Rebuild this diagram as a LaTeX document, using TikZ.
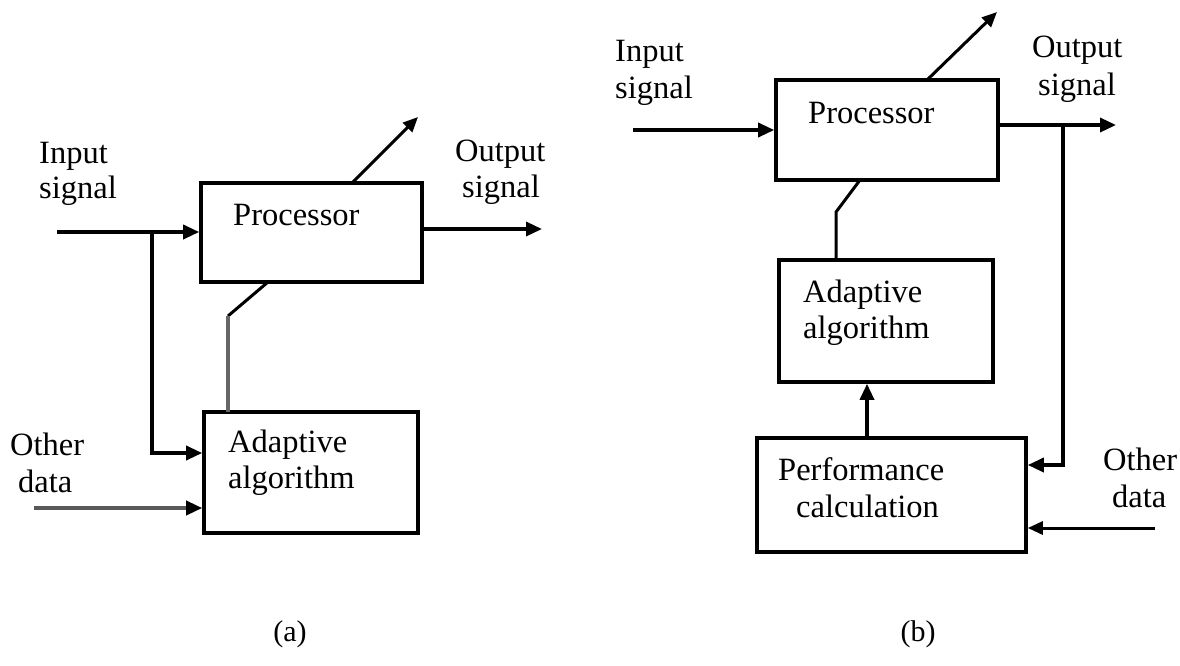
\documentclass[tikz,border=0pt]{standalone}
\usepackage{fontspec}
\setmainfont{Liberation Serif}
\usetikzlibrary{arrows.meta}
\begin{document}
\begin{tikzpicture}[x=1pt,y=-1pt,
  box/.style={draw,line width=3.6pt,rectangle,inner sep=0pt},
  lbl/.style={anchor=base west,inner sep=0pt,font=\fontsize{32.5}{36}\selectfont},
  capt/.style={anchor=center,inner sep=0pt,font=\fontsize{30}{34}\selectfont},
  arr/.style={line width=3.4pt,-{Triangle[length=16pt,width=14pt]}},
  darr/.style={line width=3pt,-{Triangle[length=15pt,width=13pt]}},
  garr/.style={line width=3.6pt,black!65,-{Triangle[length=16pt,width=14pt,fill=black,color=black]}},
  link/.style={line width=3pt},
  glink/.style={line width=3.4pt,black!60}]
\useasboundingbox (0,0) rectangle (1180,665);
% ---------------- (a) ----------------
\node[box,minimum width=221pt,minimum height=99pt] (procA) at (311.5,232.5) {};
\node[box,minimum width=214pt,minimum height=121pt] (adaA) at (311,472.5) {};
\node[lbl] (tprocA) at (233,225) {Processor};
\node[lbl] (tadaA1) at (228,452) {Adaptive};
\node[lbl] (tadaA2) at (228,488) {algorithm};
\node[lbl] (inA1) at (39,163) {Input};
\node[lbl] (inA2) at (39,198) {signal};
\node[lbl] (outA1) at (455,161) {Output};
\node[lbl] (outA2) at (462,197) {signal};
\node[lbl] (othA1) at (10,455) {Other};
\node[lbl] (othA2) at (18,492) {data};
\coordinate (inAs) at (57,232);
\coordinate (jA) at (152,232);
\coordinate (jA2) at (152,453);
\coordinate (odA) at (34,508);
\coordinate (outAe) at (542,229);
\coordinate (dA) at (352,183);
\coordinate (tA) at (418,117);
\coordinate (lA1) at (268,282);
\coordinate (lA2) at (228,316);
\coordinate (lA3) at (228,412);
\draw[arr] (inAs) -- (inAs -| procA.west);
\draw[arr] (jA) -- (jA2) -- (jA2 -| adaA.west);
\draw[garr] (odA) -- (odA -| adaA.west);
\draw[arr] (outAe -| procA.east) -- (outAe);
\draw[darr] (dA) -- (tA);
\draw[link] (lA1) -- (lA2);
\draw[glink] (lA2) -- (lA3);
\node[capt] (capA) at (290,634) {(a)};
% ---------------- (b) ----------------
\node[box,minimum width=222pt,minimum height=100pt] (procB) at (887,130) {};
\node[box,minimum width=214pt,minimum height=122pt] (adaB) at (886,321) {};
\node[box,minimum width=269pt,minimum height=114pt] (perfB) at (891.5,495) {};
\node[lbl] (tprocB) at (808,123) {Processor};
\node[lbl] (tadaB1) at (803,302) {Adaptive};
\node[lbl] (tadaB2) at (803,338) {algorithm};
\node[lbl] (tperfB1) at (778,480) {Performance};
\node[lbl] (tperfB2) at (796,517) {calculation};
\node[lbl] (inB1) at (615,61) {Input};
\node[lbl] (inB2) at (615,98) {signal};
\node[lbl] (outB1) at (1032,57) {Output};
\node[lbl] (outB2) at (1038,95) {signal};
\node[lbl] (othB1) at (1103,470) {Other};
\node[lbl] (othB2) at (1112,507) {data};
\coordinate (inBs) at (633,130);
\coordinate (outBe) at (1116,125);
\coordinate (fB1) at (1063,125);
\coordinate (fB2) at (1063,465);
\coordinate (odB) at (1155,528);
\coordinate (dB) at (927,80);
\coordinate (tB) at (997,12);
\coordinate (lB1) at (860,180);
\coordinate (lB2) at (836,212);
\coordinate (lB3) at (836,260);
\coordinate (uB) at (867,438);
\draw[arr] (inBs) -- (inBs -| procB.west);
\draw[arr] (outBe -| procB.east) -- (outBe);
\draw[arr] (fB1) -- (fB2) -- (fB2 -| perfB.east);
\draw[darr] (odB) -- (odB -| perfB.east);
\draw[darr] (dB) -- (tB);
\draw[link] (lB1) -- (lB2) -- (lB3);
\draw[arr] (uB) -- (uB |- adaB.south);
\node[capt] (capB) at (918,634) {(b)};
\end{tikzpicture}
\end{document}
